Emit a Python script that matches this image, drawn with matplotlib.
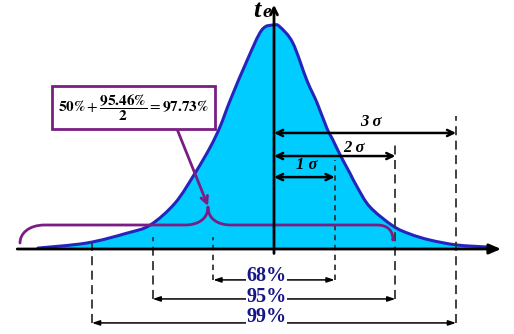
import matplotlib
matplotlib.use("Agg")
import matplotlib.pyplot as plt
from matplotlib.patches import FancyArrowPatch, Rectangle, PathPatch
from matplotlib.path import Path

# ---- data (x in sigma units, height relative to peak) ----
curve_sigma = [-3.89, -3.08, -2.42, -2.04, -1.63, -1.30, -1.05, -0.89, -0.72, -0.44, -0.20, 0.0,
               0.10, 0.31, 0.54, 0.71, 0.87, 0.97, 1.09, 1.25, 1.37, 1.58, 1.96, 2.24, 2.57, 3.01, 3.51]
curve_height = [0.004, 0.027, 0.071, 0.107, 0.205, 0.339, 0.455, 0.545, 0.665, 0.844, 0.978, 1.0,
                0.991, 0.920, 0.754, 0.652, 0.540, 0.487, 0.420, 0.339, 0.277, 0.188, 0.103, 0.067, 0.040, 0.018, 0.009]
sigma_levels = [1, 2, 3]
sigma_labels = ["1 σ", "2 σ", "3 σ"]
coverage_labels = ["68%", "95%", "99%"]
formula = r"$\mathbf{50\%}+\dfrac{\mathbf{95.46\%}}{\mathbf{2}}=\mathbf{97.73\%}$"
axis_label_main = "t"
axis_label_sub = "e"

# ---- styling ----
FILL = "#00ccff"
EDGE = "#2525bd"
PURPLE = "#7a1e84"
NAVY = "#161688"
SIG_PX, CX, BASE, PEAK_PX, W, H = 60.7, 274, 249, 224, 514, 334

plt.rcParams["mathtext.fontset"] = "stix"
fig = plt.figure(figsize=(W / 100, H / 100), dpi=100)
ax = fig.add_axes([0, 0, 1, 1])
ax.set_xlim(-CX / SIG_PX, (W - CX) / SIG_PX)
ax.set_ylim(-(H - BASE) / PEAK_PX, BASE / PEAK_PX)
ax.axis("off")


def smooth_path_vertices(xs, ys):
    """Catmull-Rom style cubic Bezier rendering through the read points."""
    pts = list(zip(xs, ys))
    n = len(pts)
    verts = [pts[0]]
    codes = [Path.MOVETO]
    for i in range(n - 1):
        p0 = pts[i - 1] if i > 0 else pts[i]
        p1 = pts[i]
        p2 = pts[i + 1]
        p3 = pts[i + 2] if i + 2 < n else pts[i + 1]
        c1 = (p1[0] + (p2[0] - p0[0]) / 6, p1[1] + (p2[1] - p0[1]) / 6)
        c2 = (p2[0] - (p3[0] - p1[0]) / 6, p2[1] - (p3[1] - p1[1]) / 6)
        verts += [c1, c2, p2]
        codes += [Path.CURVE4] * 3
    return verts, codes


cv, cc = smooth_path_vertices(curve_sigma, curve_height)
# filled area under the curve
fill_verts = cv + [(curve_sigma[-1], 0), (curve_sigma[0], 0), cv[0]]
fill_codes = cc + [Path.LINETO, Path.LINETO, Path.CLOSEPOLY]
ax.add_patch(PathPatch(Path(fill_verts, fill_codes), fc=FILL, ec="none", zorder=1))
ax.add_patch(PathPatch(Path(cv, cc), fc="none", ec=EDGE, lw=2.2, zorder=3, capstyle="round"))

# axes
ax.annotate("", xy=(3.74, 0), xytext=(-4.23, 0),
            arrowprops=dict(arrowstyle="-|>,head_length=0.7,head_width=0.3", color="black", lw=2,
                            shrinkA=0, shrinkB=0), zorder=5)
ax.annotate("", xy=(0, 1.09), xytext=(0, -0.02),
            arrowprops=dict(arrowstyle="->,head_length=0.5,head_width=0.25", color="black", lw=2,
                            shrinkA=0, shrinkB=0), zorder=5)
ax.text(-0.29, 1.035, axis_label_main, fontsize=19, fontweight="bold", fontstyle="italic",
        family="Liberation Serif", ha="center", va="baseline", zorder=6)
ax.text(-0.11, 1.035, axis_label_sub, fontsize=14, fontweight="bold", fontstyle="italic",
        family="Liberation Serif", ha="center", va="baseline", zorder=6)

# dashed vertical guide lines
tops_right = [0.397, 0.473, 0.594]
tops_left = [0.054, 0.054, 0.027]
bottoms = [-0.138, -0.223, -0.330]
styles = [(0, (3, 2.5)), (0, (5, 3)), (0, (5, 3))]
for k, tr, tl, b, ls in zip(sigma_levels, tops_right, tops_left, bottoms, styles):
    ax.plot([k, k], [b, tr], color="#333333", lw=1.3, ls=ls, zorder=4)
    ax.plot([-k, -k], [b, tl], color="#333333", lw=1.3, ls=ls, zorder=4)

# sigma arrows (top)
sig_y = [0.321, 0.415, 0.518]
sig_lab_x = [0.54, 1.32, 1.59]
sig_lab_y = [0.375, 0.453, 0.565]
for k, y, lab, lx, ly in zip(sigma_levels, sig_y, sigma_labels, sig_lab_x, sig_lab_y):
    ax.annotate("", xy=(k, y), xytext=(0, y),
                arrowprops=dict(arrowstyle="<->,head_length=0.45,head_width=0.22", color="black", lw=1.8,
                                shrinkA=0, shrinkB=0), zorder=5)
    ax.text(lx, ly, lab, fontsize=12, fontweight="bold", fontstyle="italic",
            family="Liberation Serif", ha="center", va="center", zorder=6)

# coverage arrows (bottom)
cov_text_y = [-0.121, -0.215, -0.302]
for k, y, lab, ty in zip(sigma_levels, bottoms, coverage_labels, cov_text_y):
    ax.annotate("", xy=(k, y), xytext=(-k, y),
                arrowprops=dict(arrowstyle="<|-|>,head_length=0.45,head_width=0.15", color="black", lw=1.1,
                                shrinkA=0, shrinkB=0), zorder=5)
    ax.text(-0.12, ty, lab, fontsize=14.5, fontweight="bold", family="Liberation Serif",
            color=NAVY, ha="center", va="center", zorder=7,
            bbox=dict(boxstyle="square,pad=0.02", fc="white", ec="none"))


# brace spanning up to +2 sigma
def X(px):
    return (px - CX) / SIG_PX


def Y(py):
    return (BASE - py) / PEAK_PX


verts = [(X(20), Y(243)), (X(20), Y(234)), (X(28), Y(225)), (X(45), Y(225)),
         (X(185), Y(225)),
         (X(198), Y(225)), (X(208), Y(219)), (X(208), Y(207)),
         (X(208), Y(219)), (X(218), Y(225)), (X(231), Y(225)),
         (X(377), Y(225)),
         (X(388), Y(225)), (X(393), Y(231)), (X(393), Y(243))]
codes = [Path.MOVETO, Path.CURVE4, Path.CURVE4, Path.CURVE4,
         Path.LINETO,
         Path.CURVE4, Path.CURVE4, Path.CURVE4,
         Path.CURVE4, Path.CURVE4, Path.CURVE4,
         Path.LINETO,
         Path.CURVE4, Path.CURVE4, Path.CURVE4]
brace = FancyArrowPatch(path=Path(verts, codes), arrowstyle="->,head_length=0.4,head_width=0.2",
                        color=PURPLE, lw=2, zorder=4)
ax.add_patch(brace)

# formula box and pointer
ax.add_patch(Rectangle((X(52), Y(129)), X(215) - X(52), Y(86) - Y(129), fc="white",
                       ec=PURPLE, lw=2, zorder=6))
ax.text(X(133.5), Y(107.5), formula, fontsize=11, ha="center", va="center", zorder=7)
ax.annotate("", xy=(X(208), Y(206)), xytext=(X(177), Y(129)),
            arrowprops=dict(arrowstyle="->,head_length=0.5,head_width=0.25", color=PURPLE, lw=2,
                            shrinkA=0, shrinkB=0), zorder=5)

fig.savefig("out.png", dpi=100)
